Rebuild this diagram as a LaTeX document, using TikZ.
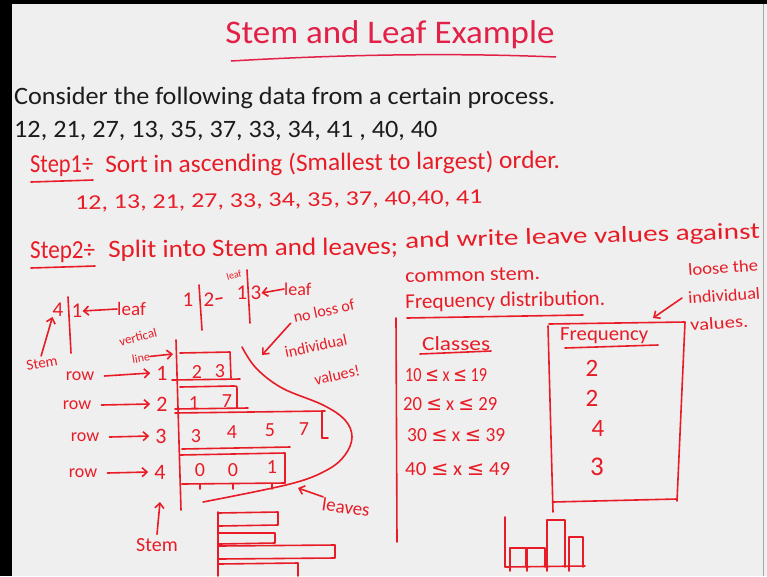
\documentclass[tikz,border=0pt]{standalone}
\usepackage{fontspec}
\setmainfont{Carlito}
\newfontfamily\symf{DejaVu Sans}
\usetikzlibrary{arrows.meta}
\definecolor{pen}{RGB}{232,28,38}
\definecolor{titlered}{RGB}{226,32,72}
\definecolor{bg}{RGB}{239,239,239}
\definecolor{ink}{RGB}{28,28,28}
\newcommand\fitw[2]{\resizebox{#1}{\height}{#2}}
\newcommand\lesym{{\symf ≤}}
\begin{document}
\begin{tikzpicture}[x=1pt,y=-1pt,
  hw/.style={text=pen, inner sep=0pt, font=\fontsize{#1pt}{#1pt}\selectfont},
  hw/.default=18,
  blk/.style={text=ink, inner sep=0pt, anchor=west, font=\fontsize{25pt}{25pt}\selectfont},
  penline/.style={draw=pen, line width=1.6pt, line cap=round, line join=round},
  penarrow/.style={penline, -{Straight Barb[length=5pt,width=9pt]}},
]
% background and frame
\fill[bg] (0,0) rectangle (767,576);
\fill[black] (0,0) rectangle (12,576);
\fill[black] (0,0) rectangle (767,4);
\draw[gray!70, line width=1pt] (763,4) -- (763,576);
\useasboundingbox (0,0) rectangle (767,576);

% title
\node[text=titlered, inner sep=0pt, font=\fontsize{33pt}{33pt}\selectfont] (title) at (390,35) {\fitw{329pt}{Stem and Leaf Example}};
\draw[titlered, line width=1.5pt] (231,61) .. controls (350,54) and (460,53) .. (556,57);

% black text
\node[blk] (consider) at (14,98) {\fitw{541pt}{Consider the following data from a certain process.}};
\node[blk] (data) at (14,131) {\fitw{423pt}{12, 21, 27, 13, 35, 37, 33, 34, 41 , 40, 40}};

% step 1
\node[hw=26, anchor=west] (step1) at (30,166) {\fitw{63pt}{Step1÷}};
\draw[penline] (31,182) -- (93,180);
\node[hw=25, anchor=west, rotate=0.6] (sort) at (105,166) {\fitw{455pt}{Sort in ascending (Smallest to largest) order.}};
\node[hw=21, anchor=west, rotate=0.8] (sorted) at (75,204) {\fitw{407pt}{12, 13, 21, 27, 33, 34, 35, 37, 40,40, 41}};

% step 2
\node[hw=26, anchor=west] (step2) at (30,252) {\fitw{65pt}{Step2÷}};
\draw[penline] (31,268) -- (95,266);
\node[hw=25, anchor=west, rotate=0.6] (split1) at (108,251) {\fitw{290pt}{Split into Stem and leaves;}};
\node[hw=23, anchor=west, rotate=1.5] (split2) at (405,242) {\fitw{355pt}{and write leave values against}};
\node[hw=20, anchor=west, rotate=1] (common) at (405,276) {\fitw{135pt}{common stem.}};
\node[hw=21, anchor=west, rotate=1] (freqdist) at (405,303) {\fitw{200pt}{Frequency distribution.}};
\draw[penline] (407,318) -- (583,315);

% loose the individual values
\node[hw=17, anchor=west, rotate=4] (loose1) at (688,270) {\fitw{70pt}{loose the}};
\node[hw=17, anchor=west, rotate=4] (loose2) at (688,298) {\fitw{72pt}{individual}};
\node[hw=17, anchor=west, rotate=4] (loose3) at (690,325) {\fitw{58pt}{values.}};
\coordinate (loosehead) at (653,318);
\draw[penarrow] ([xshift=-6pt]loose2.west) -- (loosehead);

% stem/leaf small example
\node[hw=21] (four) at (58,310) {4};
\draw[penline] (68,297) -- (71,353);
\node[hw=21] (one) at (77,311) {1};
\node[hw=19, anchor=west] (leafA) at (117,309) {leaf};
\draw[penarrow] (leafA.west) -- (one.east);
\node[hw=15, rotate=10] (stemA) at (42,363) {Stem};
\draw[penarrow] ([yshift=2pt]stemA.north) -- (four.south west);

\node[hw=21] (oneB) at (188,300) {1};
\draw[penline] (199,285) -- (202,330);
\node[hw=21] (twoB) at (209,300) {2};
\draw[penline] (216,299) -- (222,298);
\node[hw=10, rotate=15] (leafB) at (234,275) {leaf};
\node[hw=21] (oneC) at (242,293) {1};
\draw[penline] (247,270) -- (250,323);
\node[hw=21] (threeC) at (256,293) {3};
\node[hw=18, anchor=west] (leafC) at (284,289) {leaf};
\draw[penarrow] (leafC.west) -- (threeC.east);

% vertical line label
\node[hw=13, rotate=15] (vert) at (138,337) {vertical};
\node[hw=12, rotate=10] (vline) at (141,358) {line};
\coordinate (stemtop) at (173,354);
\draw[penarrow] (vline.east) -- (stemtop);

% stem line
\draw[penline] (176,340) -- (181,510);

% rows
\node[hw=18] (row1) at (80,376) {row};
\node[hw=18] (row2) at (77,405) {row};
\node[hw=18] (row3) at (85,437) {row};
\node[hw=18] (row4) at (83,473) {row};
\node[hw=22] (s1) at (162,373) {1};
\node[hw=22] (s2) at (162,404) {2};
\node[hw=22] (s3) at (161,436) {3};
\node[hw=22] (s4) at (160,472) {4};
\draw[penarrow] ([xshift=10pt]row1.east) -- ([xshift=-6pt]s1.west);
\draw[penarrow] ([xshift=10pt]row2.east) -- ([xshift=-6pt]s2.west);
\draw[penarrow] ([xshift=10pt]row3.east) -- ([xshift=-6pt]s3.west);
\draw[penarrow] ([xshift=10pt]row4.east) -- ([xshift=-6pt]s4.west);

% leaf boxes
\draw[penline] (180,353) -- (230,352) -- (231,378);
\draw[penline] (172,380) -- (240,379);
\draw[penline] (180,387) -- (233,386) .. controls (237,386) .. (237,390) -- (237,408);
\draw[penline] (175,409) -- (248,408);
\draw[penline] (175,413) -- (325,411);
\draw[penline] (322,411) -- (322,438);
\draw[penline] (322,438) -- (328,438);
\draw[penline] (182,449) -- (290,447);
\draw[penline] (180,455) -- (285,453) -- (285,483);
\draw[penline] (182,484) -- (285,483);
\foreach \x in {200,233,272} \draw[penline] (\x,484) -- (\x,489);

\node[hw=20] (l12) at (197,372) {2};
\node[hw=20] (l13) at (220,371) {3};
\node[hw=20] (l21) at (194,403) {1};
\node[hw=20] (l27) at (227,401) {7};
\node[hw=20] (l33) at (196,436) {3};
\node[hw=20] (l34) at (232,432) {4};
\node[hw=20] (l35) at (270,430) {5};
\node[hw=20] (l37) at (304,429) {7};
\node[hw=20] (l40) at (200,470) {0};
\node[hw=20] (l40b) at (233,470) {0};
\node[hw=20] (l41) at (272,467) {1};

% curve around leaves
\draw[penline] plot[smooth, tension=0.6] coordinates {(242,347) (256,368) (282,388) (323,405) (345,420) (352,437) (345,455) (327,470) (290,484) (203,502)};

% no loss of individual values
\node[hw=16, rotate=12] (noloss) at (324,311) {no loss of};
\node[hw=16, rotate=12] (indiv) at (316,346) {individual};
\node[hw=16, rotate=12] (vals) at (337,375) {values!};
\coordinate (nolosshead) at (262,355);
\draw[penarrow] ([xshift=-4pt]noloss.south west) -- (nolosshead);

% leaves label
\node[hw=19, rotate=-8] (leaves) at (346,507) {leaves};
\coordinate (leaveshead) at (298,488);
\draw[penarrow] (leaves.north west) -- (leaveshead);

% stem label
\node[hw=20] (stemB) at (157,545) {Stem};
\coordinate (stemhead) at (160,502);
\draw[penarrow] ([yshift=4pt]stemB.north) -- (stemhead);

% horizontal bar chart
\draw[penline] (218,512) -- (218,576);
\draw[penline] (218,513) -- (278,512) -- (278,525) -- (219,526);
\draw[penline] (219,533) -- (275,533) -- (275,543) -- (219,544);
\draw[penline] (219,546) -- (335,545) -- (335,558) -- (219,559);
\draw[penline] (219,564) -- (298,563) -- (298,576);

% divider
\draw[penline] (396,318) -- (397,542);

% classes
\node[hw=20, anchor=west] (classes) at (422,344) {\fitw{68pt}{Classes}};
\draw[penline] (420,354) -- (491,351);
\node[hw=20, anchor=west] (c1) at (405,375) {\fitw{82pt}{10 \lesym\ x \lesym\ 19}};
\node[hw=20, anchor=west] (c2) at (403,404) {\fitw{94pt}{20 \lesym\ x \lesym\ 29}};
\node[hw=20, anchor=west] (c3) at (407,435) {\fitw{98pt}{30 \lesym\ x \lesym\ 39}};
\node[hw=20, anchor=west] (c4) at (405,469) {\fitw{105pt}{40 \lesym\ x \lesym\ 49}};

% frequency box
\draw[penline] (548,326) -- (553,512);
\draw[penline] (549,324) -- (685,322) -- (677,501);
\draw[penline] (553,502) -- (677,499);
\node[hw=20, anchor=west] (freq) at (560,336) {\fitw{88pt}{Frequency}};
\draw[penline] (565,348) -- (658,345);
\node[hw=25] (f1) at (592,368) {2};
\node[hw=25] (f2) at (592,398) {2};
\node[hw=25] (f3) at (598,428) {4};
\node[hw=27] (f4) at (597,467) {3};

% histogram
\draw[penline] (505,517) -- (505,567) -- (585,566);
\draw[penline] (510,567) -- (510,548) -- (526,548) -- (526,567);
\draw[penline] (527,567) -- (527,548) -- (545,548) -- (545,567);
\draw[penline] (547,567) -- (547,520) -- (565,520) -- (565,567);
\draw[penline] (569,567) -- (569,537) -- (583,537) -- (583,567);
\foreach \x in {510,527,547,569} \draw[penline] (\x,566) -- (\x,571);
\end{tikzpicture}
\end{document}
